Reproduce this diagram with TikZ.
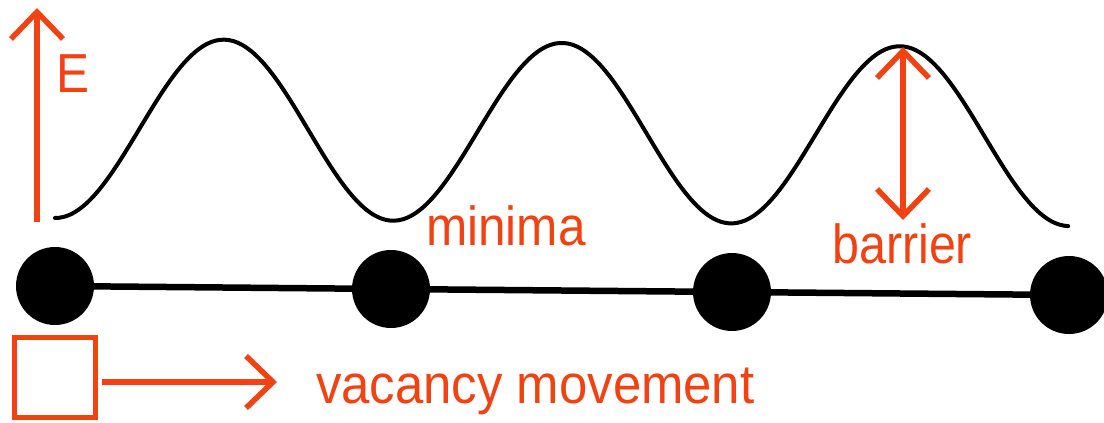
\documentclass[tikz,border=0pt]{standalone}
\usepackage{fontspec}
\setmainfont{Liberation Sans}
\usetikzlibrary{arrows.meta}
\definecolor{vorange}{RGB}{242,66,18}
\newcommand{\lbltext}[2][0.9]{\scalebox{#1}[1]{\fontsize{55}{60}\selectfont #2}}
\tikzset{
  atom/.style={circle, fill=black, inner sep=0pt, minimum size=78pt},
  bond/.style={line width=6.5pt, black},
  energy/.style={line width=4pt, black, line cap=round},
  orangearrow/.style={line width=5.5pt, vorange, -{Straight Barb[length=27pt,width=52pt]}},
  twoarrow/.style={line width=5.5pt, vorange, {Straight Barb[length=27pt,width=52pt]}-{Straight Barb[length=27pt,width=52pt]}},
  lbl/.style={text=vorange, inner sep=0pt, anchor=base west},
  vacbox/.style={draw=vorange, line width=5.5pt, minimum width=81pt, minimum height=80pt, inner sep=0pt}
}
\begin{document}
\begin{tikzpicture}[x=1pt,y=-1pt]
\useasboundingbox (0,0) rectangle (1104,423);
% energy curve
\draw[energy] plot[domain=0:3, samples=240, smooth] ({55+338*\x}, {128+3*\x+(90-0.3*\x)*cos(360*\x)});
% atoms
\node[atom] (a1) at (55,286) {};
\node[atom] (a2) at (391,289) {};
\node[atom] (a3) at (732,292) {};
\node[atom] (a4) at (1069,295) {};
\draw[bond] (a1) -- (a2);
\draw[bond] (a2) -- (a3);
\draw[bond] (a3) -- (a4);
% E axis
\coordinate (ebot) at (37,222);
\coordinate (etop) at (37,8);
\draw[orangearrow] (ebot) -- (etop);
\node[lbl] (elabel) at (56,92) {\lbltext{E}};
% barrier
\coordinate (btop) at (903,47);
\coordinate (bbot) at (903,220);
\draw[twoarrow] (btop) -- (bbot);
\node[lbl] (barrier) at (832,263) {\lbltext[0.88]{barrier}};
\node[lbl] (minima) at (426,245) {\lbltext{minima}};
% vacancy
\node[vacbox] (vac) at (55,377.5) {};
\coordinate (vend) at (277,382);
\path (vac.east |- vend) ++(4,0) coordinate (vstart);
\draw[orangearrow] (vstart) -- (vend);
\node[lbl] (vm) at (316,403) {\lbltext[0.925]{vacancy movement}};
\end{tikzpicture}
\end{document}
